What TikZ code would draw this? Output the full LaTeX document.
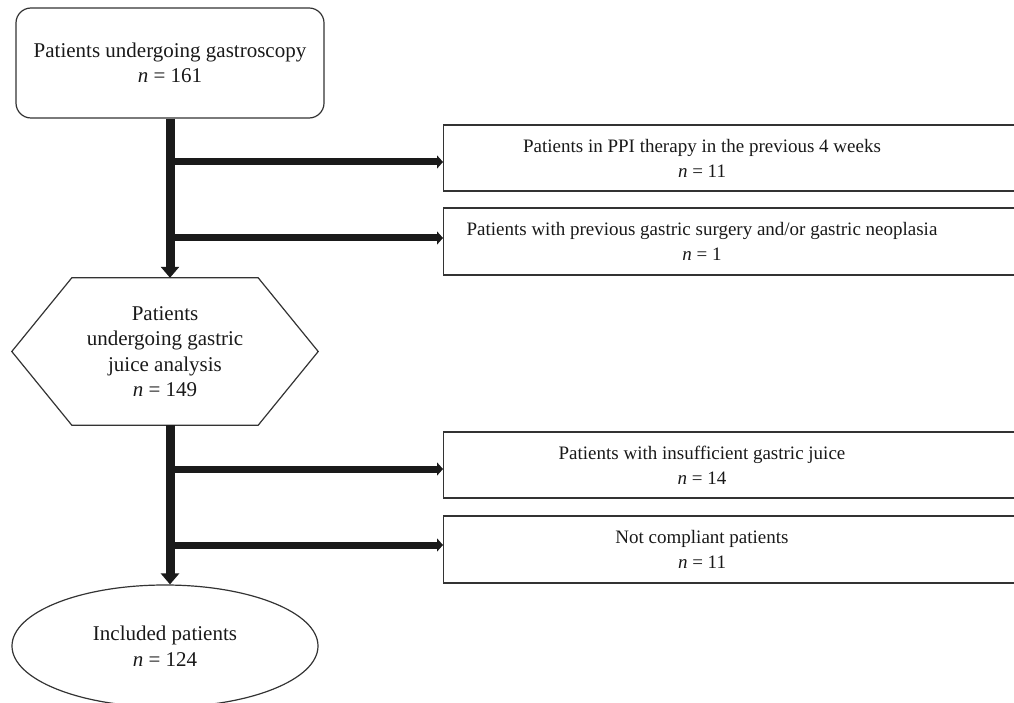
\documentclass[tikz,border=0pt]{standalone}
\usepackage{fontspec}
\setmainfont{Liberation Serif}
\usetikzlibrary{arrows.meta,calc,shapes.geometric}
\definecolor{linegray}{HTML}{333333}
\definecolor{arrowblack}{HTML}{1A1A1A}
\begin{document}
\begin{tikzpicture}[x=1pt,y=-1pt,
  txt/.style={font=\fontsize{21}{25.5}\selectfont, align=center, inner sep=0pt, text=black!90},
  rtxt/.style={font=\fontsize{19}{25}\selectfont, align=center, inner sep=0pt, text=black!90},
  shapeline/.style={draw=linegray, line width=1.2pt, inner sep=0pt},
  exbox/.style={shapeline, minimum width=620pt, anchor=west},
  varrow/.style={draw=arrowblack, line width=9pt, -{Triangle[length=11pt,width=18pt]}},
  harrow/.style={draw=arrowblack, line width=7pt, -{Triangle[length=6pt,width=13pt]}}]
\useasboundingbox (0,0) rectangle (1014,703);
% main column
\node[shapeline, rounded corners=15pt, minimum width=308pt, minimum height=110pt, txt] (top) at (170,63)
  {Patients undergoing gastroscopy\\{\itshape n} = 161};
\node[minimum width=306pt, minimum height=147pt, inner sep=0pt] (hex) at (165,351.5) {};
\draw[linegray, line width=1.2pt] ($(hex.north west)+(60,0)$) -- ($(hex.north east)+(-60,0)$) -- (hex.east)
  -- ($(hex.south east)+(-60,0)$) -- ($(hex.south west)+(60,0)$) -- (hex.west) -- cycle;
\node[txt] (hext) at (hex.center) {Patients\\undergoing gastric\\juice analysis\\{\itshape n} = 149};
\node[shapeline, ellipse, minimum width=306pt, minimum height=122pt, txt] (inc) at (165,646)
  {Included patients\\{\itshape n} = 124};
% exclusion boxes
\node[exbox, minimum height=66pt] (b1) at (443,158) {};
\node[rtxt] (b1t) at (702,158) {Patients in PPI therapy in the previous 4 weeks\\{\itshape n} = 11};
\node[exbox, minimum height=67pt] (b2) at (443,241.5) {};
\node[rtxt] (b2t) at (702,241.5) {Patients with previous gastric surgery and/or gastric neoplasia\\{\itshape n} = 1};
\node[exbox, minimum height=66pt] (b3) at (443,465) {};
\node[rtxt] (b3t) at (702,465) {Patients with insufficient gastric juice\\{\itshape n} = 14};
\node[exbox, minimum height=67pt] (b4) at (443,549.5) {};
\node[rtxt] (b4t) at (702,549.5) {Not compliant patients\\{\itshape n} = 11};
% connectors
\draw[varrow] (top.south) -- (top.south |- hex.north);
\draw[varrow] (hex.south -| top.south) -- (top.south |- inc.north);
\coordinate (j1) at (170,162);
\coordinate (j2) at (170,238);
\coordinate (j3) at (170,469);
\coordinate (j4) at (170,545);
\draw[harrow] (j1) -- (j1 -| b1.west);
\draw[harrow] (j2) -- (j2 -| b2.west);
\draw[harrow] (j3) -- (j3 -| b3.west);
\draw[harrow] (j4) -- (j4 -| b4.west);
\end{tikzpicture}
\end{document}
